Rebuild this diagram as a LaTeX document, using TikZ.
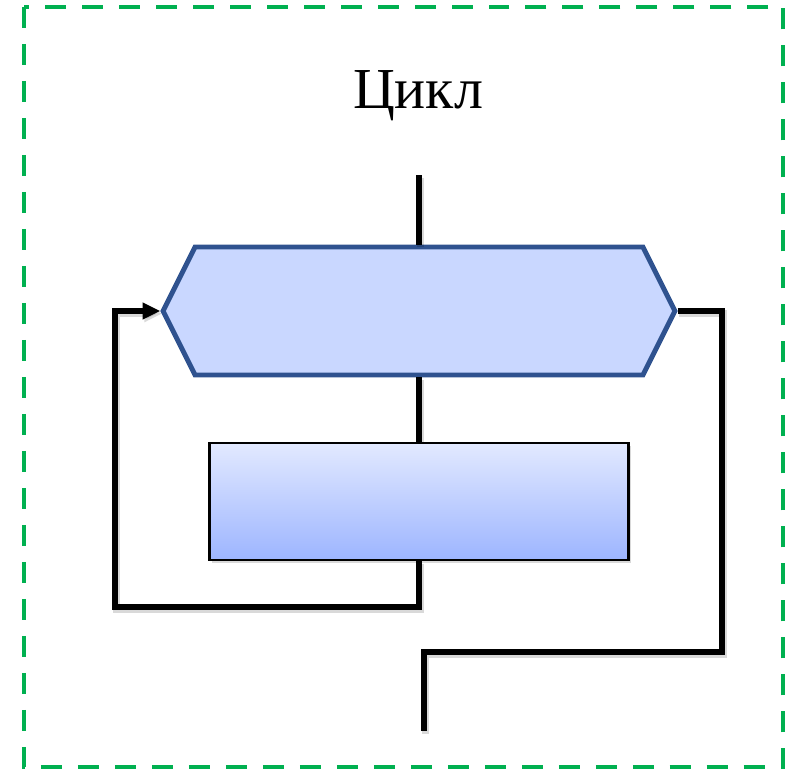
\documentclass[tikz,border=0pt]{standalone}
\usepackage{fontspec}
\setmainfont{Liberation Serif}
\usetikzlibrary{arrows.meta,shapes.symbols,shadows}
\definecolor{frameg}{RGB}{0,176,80}
\definecolor{hexfill}{RGB}{201,215,255}
\definecolor{hexline}{RGB}{47,82,143}
\definecolor{boxtop}{RGB}{226,233,255}
\definecolor{boxbot}{RGB}{157,181,255}
\tikzset{
  flow/.style={line width=3.6pt, black, line join=miter,
    preaction={draw, black, opacity=.15, line width=4pt,
      transform canvas={xshift=1pt, yshift=-1.5pt}}},
  hexnode/.style={shape=signal, signal to=west and east,
    signal pointer angle=126.87, fill=hexfill, draw=hexline,
    line width=2.8pt, minimum width=10.24cm, minimum height=2.56cm,
    inner sep=0pt},
  bodybox/.style={rectangle, draw=black, line width=1.4pt,
    top color=boxtop, bottom color=boxbot,
    minimum width=8.38cm, minimum height=2.34cm, inner sep=0pt,
    drop shadow={shadow xshift=1.2pt, shadow yshift=-1.8pt, opacity=.3}}
}
\begin{document}
\begin{tikzpicture}[x=0.02cm, y=-0.02cm]
  \useasboundingbox (0,0) rectangle (800,771);
  % 外框
  \draw[frameg, line width=2.6pt, dash pattern=on 0.42cm off 0.32cm]
    (24,7) rectangle (783,767);
  % 标题
  \node[font=\fontsize{33}{40}\selectfont] (title) at (418,96) {Цикл};
  % 条件与循环体
  \node[hexnode] (cond) at (419,311) {};
  \node[bodybox] (body) at (419,501.5) {};
  \coordinate (entry) at (419,175);
  \coordinate (loopc) at (115,607);
  \coordinate (exitc) at (722,652);
  \coordinate (exit) at (424,731);
  % 连线
  \draw[flow, -{Triangle[length=10pt, width=9pt]}]
    (body.south) |- (loopc) |- (cond.west);
  \draw[flow] (entry) -- (cond.north);
  \draw[flow] (cond.south) -- (body.north);
  \draw[flow] (cond.east) -| (exitc) -| (exit);
\end{tikzpicture}
\end{document}
